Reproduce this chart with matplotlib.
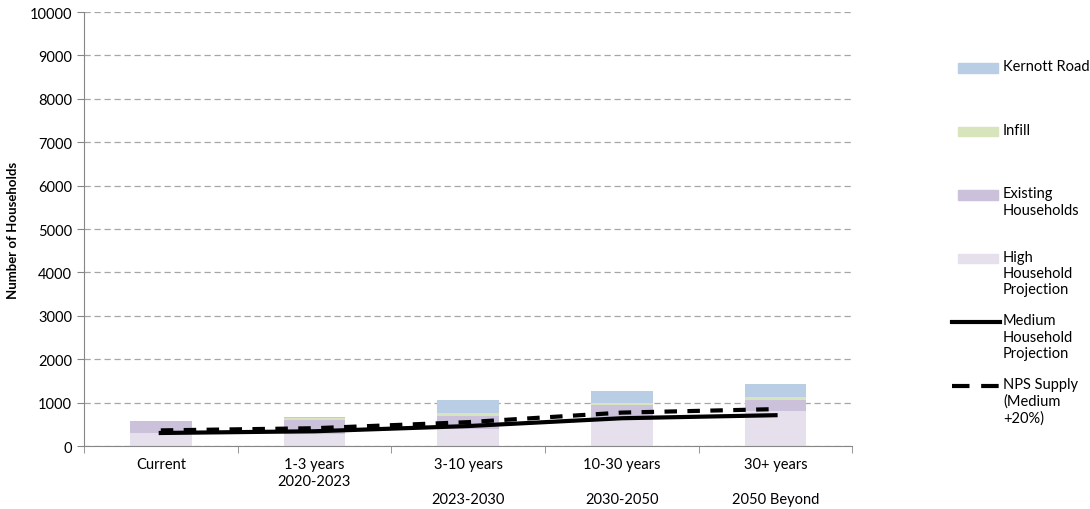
import matplotlib
matplotlib.use("Agg")
import matplotlib.pyplot as plt
from matplotlib.patches import Rectangle
from matplotlib.lines import Line2D
import numpy as np

# values
categories = ["Current", "1-3 years\n2020-2023", "3-10 years\n\n2023-2030",
              "10-30 years\n\n2030-2050", "30+ years\n\n2050 Beyond"]
high_projection = [290, 280, 400, 600, 810]
existing_households = [280, 330, 300, 350, 260]
infill = [0, 40, 50, 50, 60]
kernott_road = [0, 20, 300, 270, 290]
medium_projection = [300, 340, 460, 640, 710]
nps_supply = [360, 410, 550, 770, 850]

plt.rcParams['font.family'] = ['Lato', 'DejaVu Sans']

fig = plt.figure(figsize=(10.9, 5.1), dpi=100)
ax = fig.add_axes([0.077, 0.1235, 0.705, 0.851])

x = np.arange(len(categories))
w = 0.4

# stacked bars, lightest at the bottom
bottom = np.zeros(len(x))
for vals, col in [(high_projection, "#e5e0ec"), (existing_households, "#ccc1da"),
                  (infill, "#d8e4bc"), (kernott_road, "#b9cde5")]:
    ax.bar(x, vals, w, bottom=bottom, color=col, zorder=2)
    bottom += np.array(vals)

ax.plot(x, medium_projection, color="black", lw=3, zorder=3)
ax.plot(x, nps_supply, color="black", lw=3, ls=(0, (3, 2.5)), zorder=3)

ax.set_xlim(-0.5, 4.5)
ax.set_ylim(0, 10000)
ax.set_yticks(range(0, 10001, 1000))
ax.yaxis.grid(True, ls=(0, (5, 3)), color="#a6a6a6", lw=0.9, zorder=0)
ax.set_xticks(x)
ax.set_xticklabels(categories, fontsize=10.5, linespacing=1.3)
ax.set_xticks(np.arange(-0.5, 5, 1), minor=True)
ax.tick_params(axis="x", which="major", length=0, pad=8)
ax.tick_params(axis="x", which="minor", length=5, color="#868686")
ax.tick_params(axis="y", length=5, color="#868686", labelsize=10.5)
for s in ["top", "right"]:
    ax.spines[s].set_visible(False)
for s in ["left", "bottom"]:
    ax.spines[s].set_color("#868686")
ax.set_ylabel("Number of Households", fontsize=9.5, fontweight="bold", labelpad=8)

# legend drawn by hand to match the spaced-out layout
legend_items = [("Kernott Road", "patch", "#b9cde5"),
                ("Infill", "patch", "#d8e4bc"),
                ("Existing\nHouseholds", "patch", "#ccc1da"),
                ("High\nHousehold\nProjection", "patch", "#e5e0ec"),
                ("Medium\nHousehold\nProjection", "solid", "black"),
                ("NPS Supply\n(Medium\n+20%)", "dash", "black")]
W, H = 1090, 510
for i, (label, kind, col) in enumerate(legend_items):
    yc = 1 - (69 + i * 63.5) / H
    if kind == "patch":
        fig.add_artist(Rectangle((958 / W, yc - 4.5 / H), 40 / W, 9 / H,
                                 color=col, transform=fig.transFigure))
    else:
        ls = "-" if kind == "solid" else (0, (4.2, 2.8))
        fig.add_artist(Line2D([952 / W, 1000 / W], [yc, yc], color=col, lw=3,
                              ls=ls, transform=fig.transFigure))
    fig.text(1003 / W, yc + 8.5 / H, label, fontsize=10.5, va="top", ha="left",
             linespacing=1.2)

fig.savefig("out.png", dpi=100)
